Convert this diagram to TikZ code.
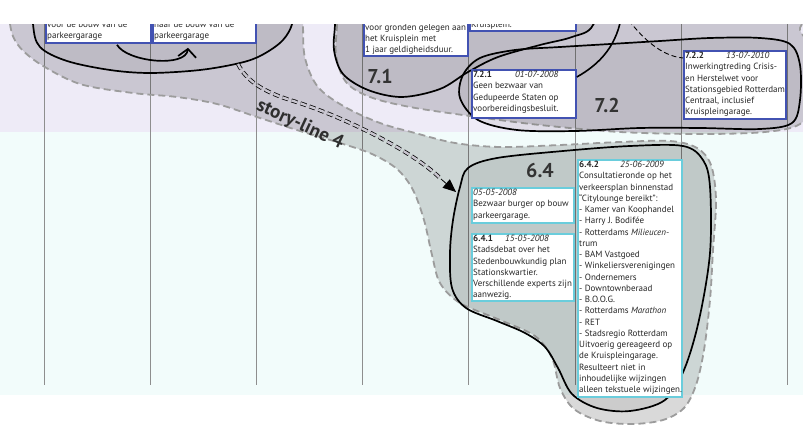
\documentclass[tikz,border=0pt]{standalone}
\usepackage{fontspec}
\setmainfont{PT Sans}
\usetikzlibrary{arrows.meta,calc}

\definecolor{bandlav}{HTML}{EEEBF7}
\definecolor{bandcyan}{HTML}{F2FCFB}
\definecolor{gridline}{HTML}{8E8E8E}
\definecolor{regionedge}{HTML}{9C9C9C}
\definecolor{boxblue}{HTML}{4252B2}
\definecolor{boxcyan}{HTML}{6ACDDC}
\definecolor{labelgray}{HTML}{333333}
\definecolor{bandfill}{HTML}{C9C6D0}

\begin{document}
\begin{tikzpicture}[x=1pt,y=-1pt,
  region/.style={fill=black, fill opacity=0.15, draw=regionedge, line width=1.8pt, dash pattern=on 7pt off 4pt},
  storyloop/.style={fill=black, fill opacity=0.06, draw=black, line width=1.7pt},
  gridrule/.style={draw=gridline, line width=0.9pt},
  bluebox/.style={draw=boxblue, line width=1.8pt, fill=white, anchor=north west, inner sep=0pt},
  cyanbox/.style={draw=boxcyan, line width=1.8pt, fill=white, anchor=north west, inner sep=0pt},
  boxtext/.style={anchor=north west, align=left, inner xsep=2pt, inner ysep=0.5pt, font=\fontsize{9}{11.25}\selectfont, text=black!85},
  phase/.style={font=\fontsize{20}{22}\selectfont\bfseries, text=labelgray},
  storyline/.style={draw=black, line width=0.75pt, double=bandfill, double distance=2.4pt, dash pattern=on 6pt off 3.5pt},
]
\useasboundingbox (0,0) rectangle (803,425);

% background bands
\fill[white] (0,0) rectangle (803,425);
\fill[bandlav] (0,24) rectangle (803,132);
\fill[bandcyan] (0,132) rectangle (803,395);

% time grid
\foreach \gx in {44,150,256,362,468,575,681,787}
  \draw[gridrule] (\gx,24) -- (\gx,385);

% story-line regions
\draw[region] plot[smooth cycle, tension=0.55] coordinates {
  (8,-20) (10,24) (18,45) (40,64) (80,84) (133,93) (177,97) (217,104)
  (257,117) (300,131) (340,143) (372,154) (397,169) (413,190) (424,220)
  (432,255) (440,283) (460,303) (500,320) (535,336) (552,358) (560,388)
  (574,409) (600,421) (632,424) (663,420) (684,408) (696,385) (704,350)
  (710,300) (713,250) (716,200) (711,165) (697,148) (670,141) (620,142)
  (560,145) (500,147) (455,143) (415,133) (380,123) (345,107) (318,87)
  (305,58) (303,24) (303,-20)};
\draw[region] plot[smooth cycle, tension=0.55] coordinates {
  (337,-20) (337,24) (336,55) (346,82) (370,97) (410,107) (470,116)
  (540,125) (620,132) (700,134) (765,132) (800,124) (815,100) (815,50)
  (800,30) (790,-20)};

% phase loops
\draw[storyloop] plot[smooth cycle, tension=0.55] coordinates {
  (33,-20) (33,24) (40,47) (67,61) (110,70) (150,73) (200,70) (240,63)
  (262,55) (283,40) (293,20) (295,-20)};
\draw[storyloop] plot[smooth cycle, tension=0.55] coordinates {
  (336,-20) (335,24) (334,50) (343,74) (368,90) (402,97) (440,89)
  (468,72) (498,57) (540,45) (572,37) (593,25) (600,-20)};
\draw[storyloop] plot[smooth cycle, tension=0.55] coordinates {
  (560,47) (610,44) (660,41) (710,38) (760,38) (790,44) (800,65)
  (800,100) (792,123) (760,129) (700,128) (640,128) (575,131) (517,130)
  (478,120) (460,98) (463,75) (480,58) (515,50)};
\draw[storyloop] plot[smooth cycle, tension=0.55] coordinates {
  (460,187) (468,168) (497,158) (563,151) (630,146) (683,146) (703,160)
  (710,187) (710,253) (699,320) (684,370) (665,400) (630,411) (597,408)
  (572,394) (558,368) (545,347) (525,333) (497,321) (466,308) (452,288)
  (450,253) (453,220)};

% event boxes
\node[bluebox, minimum width=105pt, minimum height=40pt] (bA) at (45,2) {};
\node[bluebox, minimum width=103pt, minimum height=40pt] (bB) at (152,2) {};
\node[bluebox, minimum width=104pt, minimum height=53pt] (b71) at (363,2) {};
\node[bluebox, minimum width=106pt, minimum height=28pt] (b71k) at (469,2) {};
\node[bluebox, minimum width=104pt, minimum height=48pt] (b721) at (471,69) {};
\node[bluebox, minimum width=102pt, minimum height=68pt] (b722) at (683,50) {};
\node[cyanbox, minimum width=102pt, minimum height=35pt] (b640) at (471,187) {};
\node[cyanbox, minimum width=102pt, minimum height=67pt] (b641) at (471,233) {};
\node[cyanbox, minimum width=104pt, minimum height=237pt] (b642) at (577,159) {};

% box texts
\node[boxtext] (tA) at (45,18.6) {\strut voor de bouw van de\\parkeergarage};
\node[boxtext] (tB) at (152,18.6) {\strut naar de bouw van de\\parkeergarage};
\node[boxtext] (t71) at (363,21.6) {\strut voor gronden gelegen aan\\het Kruisplein met\\1 jaar geldigheidsduur.};
\node[boxtext] (t71k) at (469,18.6) {\strut Kruisplein.};
\node[boxtext] (t721) at (b721.north west) {\strut\makebox[42pt][l]{\textbf{7.2.1}}\textit{01-07-2008}\\Geen bezwaar van\\Gedupeerde Staten op\\voorbereidingsbesluit.};
\node[boxtext] (t722) at (b722.north west) {\strut\makebox[41pt][l]{\textbf{7.2.2}}\textit{13-07-2010}\\Inwerkingtreding Crisis-\\en Herstelwet voor\\Stationsgebied Rotterdam\\Centraal, inclusief\\Kruispleingarage.};
\node[boxtext] (t640) at (b640.north west) {\strut\textit{05-05-2008}\\Bezwaar burger op bouw\\parkeergarage.};
\node[boxtext] (t641) at (b641.north west) {\strut\makebox[32pt][l]{\textbf{6.4.1}}\textit{15-05-2008}\\Stadsdebat over het\\Stedenbouwkundig plan\\Stationskwartier.\\Verschillende experts zijn\\aanwezig.};
\node[boxtext] (t642) at (b642.north west) {\strut\makebox[41pt][l]{\textbf{6.4.2}}\textit{25-06-2009}\\Consultatieronde op het\\verkeersplan binnenstad\\“Citylounge bereikt”:\\- Kamer van Koophandel\\- Harry J. Bodifée\\- Rotterdams \textit{Milieucen-}\\trum\\- BAM Vastgoed\\- Winkeliersverenigingen\\- Ondernemers\\- Downtownberaad\\- B.O.O.G.\\- Rotterdams \textit{Marathon}\\- RET\\- Stadsregio Rotterdam\\Uitvoerig gereageerd op\\de Kruispleingarage.\\Resulteert niet in\\inhoudelijke wijzingen\\alleen tekstuele wijzingen.};

% connectors
\draw[line width=1.7pt, -{Straight Barb[length=8pt,width=18pt]}]
  ($(bA.south west)+(72,1)$) .. controls (127,62) and (186,68) .. ($(bB.south west)+(36,4)$);
\coordinate (slStart) at (238,64);
\coordinate (slEnd) at (441,179);
\coordinate (slTip) at (456,192);
\draw[storyline] (slStart) .. controls (247,82) and (265,92) .. (290,100)
  .. controls (340,115) and (412,150) .. (slEnd);
\draw[line width=0.8pt, -{Triangle[length=13pt,width=11pt]}] (slEnd) -- (slTip);
\coordinate (topLink) at (622,12);
\draw[line width=1.6pt] ($(b721.north east)+(0,8)$) .. controls (600,64) and (618,45) .. (topLink);
\coordinate (topDash) at (624,14);
\draw[line width=0.9pt, dash pattern=on 5pt off 3pt] (topDash) .. controls (640,36) and (660,56) .. ($(b722.north west)+(0,8)$);

% phase labels
\node[phase] (p71) at (380,76) {7.1};
\node[phase] (p72) at (607,105) {7.2};
\node[phase] (p64) at (540,170) {6.4};
\node[font=\fontsize{19}{21}\selectfont\bfseries, text=black!82, rotate=-25, inner sep=0pt] (slLabel) at (300,125) {story-line 4};

% top margin
\fill[white] (0,0) rectangle (803,24);
\end{tikzpicture}
\end{document}
